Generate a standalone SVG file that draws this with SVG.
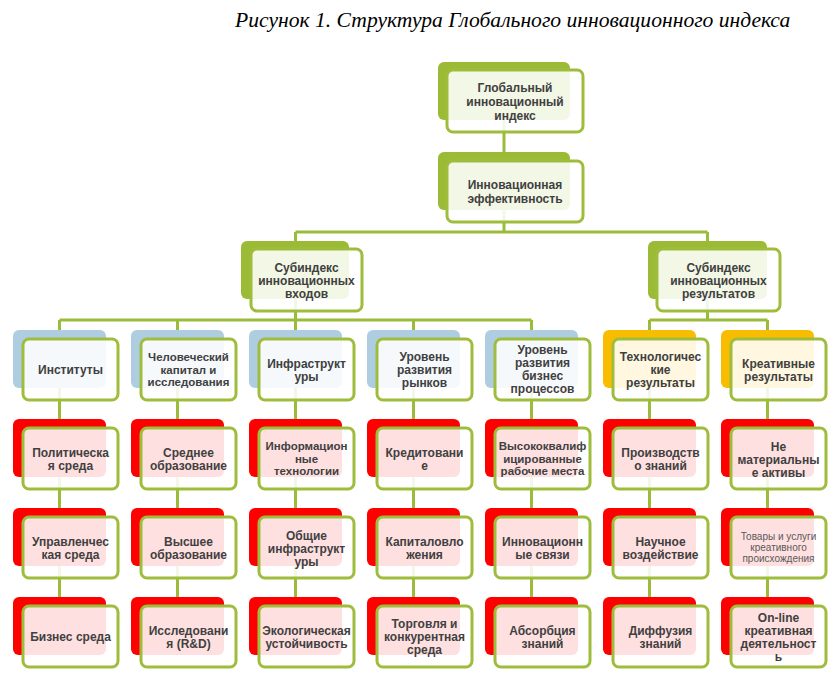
<svg xmlns="http://www.w3.org/2000/svg" width="839" height="678" viewBox="0 0 839 678">
<style>
.t{font-family:"Liberation Sans",Arial,sans-serif;font-weight:bold;font-size:12px;fill:#404040;text-anchor:middle}
.tc{font-size:11.5px}
.s{font-family:"Liberation Sans",Arial,sans-serif;font-size:10px;fill:#595959;text-anchor:middle}
.title{font-family:"Liberation Serif","Times New Roman",serif;font-style:italic;font-size:21.6px;fill:#000}
.bg{fill:#9bbb37}
.bb{fill:#afcde0}
.bo{fill:#f8bc00}
.br{fill:#ff0000}
.f{fill:#ffffff;fill-opacity:0.88;stroke:#9fbd3c;stroke-width:3}
.c{stroke:#9bbb3b;stroke-width:3;fill:none}
</style>
<rect width="839" height="678" fill="#ffffff"/>
<text class="title" x="235" y="27">Рисунок 1. Структура Глобального инновационного индекса</text>

<g id="connectors" class="c">
<path d="M504 120V152M504 210V232M295.5 232H707.5M295.5 232V241M707.5 232V241"/>
<path d="M295.5 299V320M59.5 320H531.5M59.5 320V330M177.5 320V330M295.5 320V330M413.5 320V330M531.5 320V330"/>
<path d="M707.5 299V320M649.5 320H767.5M649.5 320V330M767.5 320V330"/>
<path d="M59.5 388V419M59.5 477V508M59.5 566V597"/>
<path d="M177.5 388V419M177.5 477V508M177.5 566V597"/>
<path d="M295.5 388V419M295.5 477V508M295.5 566V597"/>
<path d="M413.5 388V419M413.5 477V508M413.5 566V597"/>
<path d="M531.5 388V419M531.5 477V508M531.5 566V597"/>
<path d="M649.5 388V419M649.5 477V508M649.5 566V597"/>
<path d="M767.5 388V419M767.5 477V508M767.5 566V597"/>
</g>

<g id="n-gii">
<rect class="bg" x="438" y="62" width="132" height="58" rx="6"/>
<rect class="f" x="447" y="70" width="136" height="62" rx="6"/>
<text class="t"><tspan x="515" y="92">Глобальный</tspan><tspan x="515" y="106">инновационный</tspan><tspan x="515" y="119.5">индекс</tspan></text>
</g>
<g id="n-eff">
<rect class="bg" x="438" y="152" width="132" height="58" rx="6"/>
<rect class="f" x="447" y="161" width="136" height="61" rx="6"/>
<text class="t"><tspan x="515" y="189">Инновационная</tspan><tspan x="515" y="202.5">эффективность</tspan></text>
</g>
<g id="n-in">
<rect class="bg" x="241" y="241" width="108" height="58" rx="6"/>
<rect class="f" x="251" y="249" width="111" height="62" rx="6"/>
<text class="t"><tspan x="306.5" y="271.5">Субиндекс</tspan><tspan x="306.5" y="284.5">инновационных</tspan><tspan x="306.5" y="297.5">входов</tspan></text>
</g>
<g id="n-out">
<rect class="bg" x="648" y="241" width="119" height="58" rx="6"/>
<rect class="f" x="657" y="249" width="123" height="62" rx="6"/>
<text class="t"><tspan x="718.5" y="272">Субиндекс</tspan><tspan x="718.5" y="285">инновационных</tspan><tspan x="718.5" y="298">результатов</tspan></text>
</g>

<!-- Row 1 -->
<g id="n-inst">
<rect class="bb" x="13" y="330" width="93" height="58" rx="6"/>
<rect class="f" x="23" y="339" width="95" height="61" rx="6"/>
<text class="t"><tspan x="70.5" y="374">Институты</tspan></text>
</g>
<g id="n-human">
<rect class="bb" x="131" y="330" width="93" height="58" rx="6"/>
<rect class="f" x="141" y="339" width="95" height="61" rx="6"/>
<text class="t tc"><tspan x="188.5" y="361">Человеческий</tspan><tspan x="188.5" y="373.5">капитал и</tspan><tspan x="188.5" y="386">исследования</tspan></text>
</g>
<g id="n-infra">
<rect class="bb" x="249" y="330" width="93" height="58" rx="6"/>
<rect class="f" x="259" y="339" width="95" height="61" rx="6"/>
<text class="t"><tspan x="306.5" y="367.5">Инфраструкт</tspan><tspan x="306.5" y="380.5">уры</tspan></text>
</g>
<g id="n-market">
<rect class="bb" x="367" y="330" width="93" height="58" rx="6"/>
<rect class="f" x="377" y="339" width="95" height="61" rx="6"/>
<text class="t"><tspan x="424.5" y="361">Уровень</tspan><tspan x="424.5" y="374">развития</tspan><tspan x="424.5" y="387">рынков</tspan></text>
</g>
<g id="n-business">
<rect class="bb" x="485" y="330" width="93" height="58" rx="6"/>
<rect class="f" x="495" y="339" width="95" height="61" rx="6"/>
<text class="t"><tspan x="542.5" y="354">Уровень</tspan><tspan x="542.5" y="367">развития</tspan><tspan x="542.5" y="380">бизнес</tspan><tspan x="542.5" y="393">процессов</tspan></text>
</g>
<g id="n-tech">
<rect class="bo" x="603" y="330" width="93" height="58" rx="6"/>
<rect class="f" x="613" y="339" width="95" height="61" rx="6"/>
<text class="t"><tspan x="660.5" y="361">Технологичес</tspan><tspan x="660.5" y="374">кие</tspan><tspan x="660.5" y="387">результаты</tspan></text>
</g>
<g id="n-creative">
<rect class="bo" x="721" y="330" width="93" height="58" rx="6"/>
<rect class="f" x="731" y="339" width="95" height="61" rx="6"/>
<text class="t"><tspan x="778.5" y="367.5">Креативные</tspan><tspan x="778.5" y="380.5">результаты</tspan></text>
</g>

<!-- Row 2 -->
<g id="n-polit">
<rect class="br" x="13" y="419" width="93" height="58" rx="6"/>
<rect class="f" x="23" y="428" width="95" height="61" rx="6"/>
<text class="t"><tspan x="70.5" y="456.5">Политическа</tspan><tspan x="70.5" y="469.5">я среда</tspan></text>
</g>
<g id="n-sec">
<rect class="br" x="131" y="419" width="93" height="58" rx="6"/>
<rect class="f" x="141" y="428" width="95" height="61" rx="6"/>
<text class="t"><tspan x="188.5" y="456.5">Среднее</tspan><tspan x="188.5" y="469.5">образование</tspan></text>
</g>
<g id="n-ict">
<rect class="br" x="249" y="419" width="93" height="58" rx="6"/>
<rect class="f" x="259" y="428" width="95" height="61" rx="6"/>
<text class="t tc"><tspan x="306.5" y="450">Информацион</tspan><tspan x="306.5" y="462.5">ные</tspan><tspan x="306.5" y="475">технологии</tspan></text>
</g>
<g id="n-credit">
<rect class="br" x="367" y="419" width="93" height="58" rx="6"/>
<rect class="f" x="377" y="428" width="95" height="61" rx="6"/>
<text class="t"><tspan x="424.5" y="456.5">Кредитовани</tspan><tspan x="424.5" y="469.5">е</tspan></text>
</g>
<g id="n-knowledge-workers">
<rect class="br" x="485" y="419" width="93" height="58" rx="6"/>
<rect class="f" x="495" y="428" width="95" height="61" rx="6"/>
<text class="t tc"><tspan x="542.5" y="450">Высококвалиф</tspan><tspan x="542.5" y="462.5">ицированные</tspan><tspan x="542.5" y="475">рабочие места</tspan></text>
</g>
<g id="n-kcreation">
<rect class="br" x="603" y="419" width="93" height="58" rx="6"/>
<rect class="f" x="613" y="428" width="95" height="61" rx="6"/>
<text class="t"><tspan x="660.5" y="456.5">Производств</tspan><tspan x="660.5" y="469.5">о знаний</tspan></text>
</g>
<g id="n-intangible">
<rect class="br" x="721" y="419" width="93" height="58" rx="6"/>
<rect class="f" x="731" y="428" width="95" height="61" rx="6"/>
<text class="t"><tspan x="778.5" y="450.5">Не</tspan><tspan x="778.5" y="463.5">материальны</tspan><tspan x="778.5" y="476.5">е активы</tspan></text>
</g>

<!-- Row 3 -->
<g id="n-reg">
<rect class="br" x="13" y="508" width="93" height="58" rx="6"/>
<rect class="f" x="23" y="517" width="95" height="61" rx="6"/>
<text class="t"><tspan x="70.5" y="545.5">Управленчес</tspan><tspan x="70.5" y="558.5">кая среда</tspan></text>
</g>
<g id="n-tertiary">
<rect class="br" x="131" y="508" width="93" height="58" rx="6"/>
<rect class="f" x="141" y="517" width="95" height="61" rx="6"/>
<text class="t"><tspan x="188.5" y="545.5">Высшее</tspan><tspan x="188.5" y="558.5">образование</tspan></text>
</g>
<g id="n-general-infra">
<rect class="br" x="249" y="508" width="93" height="58" rx="6"/>
<rect class="f" x="259" y="517" width="95" height="61" rx="6"/>
<text class="t"><tspan x="306.5" y="539.5">Общие</tspan><tspan x="306.5" y="552.5">инфраструкт</tspan><tspan x="306.5" y="565.5">уры</tspan></text>
</g>
<g id="n-invest">
<rect class="br" x="367" y="508" width="93" height="58" rx="6"/>
<rect class="f" x="377" y="517" width="95" height="61" rx="6"/>
<text class="t"><tspan x="424.5" y="545.5">Капиталовло</tspan><tspan x="424.5" y="558.5">жения</tspan></text>
</g>
<g id="n-linkages">
<rect class="br" x="485" y="508" width="93" height="58" rx="6"/>
<rect class="f" x="495" y="517" width="95" height="61" rx="6"/>
<text class="t"><tspan x="542.5" y="545.5">Инновационн</tspan><tspan x="542.5" y="558.5">ые связи</tspan></text>
</g>
<g id="n-kimpact">
<rect class="br" x="603" y="508" width="93" height="58" rx="6"/>
<rect class="f" x="613" y="517" width="95" height="61" rx="6"/>
<text class="t"><tspan x="660.5" y="545.5">Научное</tspan><tspan x="660.5" y="558.5">воздействие</tspan></text>
</g>
<g id="n-goods">
<rect class="br" x="721" y="508" width="93" height="58" rx="6"/>
<rect class="f" x="731" y="517" width="95" height="61" rx="6"/>
<text class="s"><tspan x="778.5" y="540">Товары и услуги</tspan><tspan x="778.5" y="551">креативного</tspan><tspan x="778.5" y="562">происхождения</tspan></text>
</g>

<!-- Row 4 -->
<g id="n-bizenv">
<rect class="br" x="13" y="597" width="93" height="58" rx="6"/>
<rect class="f" x="23" y="606" width="95" height="61" rx="6"/>
<text class="t"><tspan x="70.5" y="641">Бизнес среда</tspan></text>
</g>
<g id="n-rd">
<rect class="br" x="131" y="597" width="93" height="58" rx="6"/>
<rect class="f" x="141" y="606" width="95" height="61" rx="6"/>
<text class="t"><tspan x="188.5" y="634.5">Исследовани</tspan><tspan x="188.5" y="647.5">я (R&amp;D)</tspan></text>
</g>
<g id="n-eco">
<rect class="br" x="249" y="597" width="93" height="58" rx="6"/>
<rect class="f" x="259" y="606" width="95" height="61" rx="6"/>
<text class="t"><tspan x="306.5" y="634.5">Экологическая</tspan><tspan x="306.5" y="647.5">устойчивость</tspan></text>
</g>
<g id="n-trade">
<rect class="br" x="367" y="597" width="93" height="58" rx="6"/>
<rect class="f" x="377" y="606" width="95" height="61" rx="6"/>
<text class="t"><tspan x="424.5" y="628">Торговля и</tspan><tspan x="424.5" y="641">конкурентная</tspan><tspan x="424.5" y="654">среда</tspan></text>
</g>
<g id="n-absorb">
<rect class="br" x="485" y="597" width="93" height="58" rx="6"/>
<rect class="f" x="495" y="606" width="95" height="61" rx="6"/>
<text class="t"><tspan x="542.5" y="634.5">Абсорбция</tspan><tspan x="542.5" y="647.5">знаний</tspan></text>
</g>
<g id="n-diffusion">
<rect class="br" x="603" y="597" width="93" height="58" rx="6"/>
<rect class="f" x="613" y="606" width="95" height="61" rx="6"/>
<text class="t"><tspan x="660.5" y="634.5">Диффузия</tspan><tspan x="660.5" y="647.5">знаний</tspan></text>
</g>
<g id="n-online">
<rect class="br" x="721" y="597" width="93" height="58" rx="6"/>
<rect class="f" x="731" y="606" width="95" height="61" rx="6"/>
<text class="t"><tspan x="778.5" y="621.5">On-line</tspan><tspan x="778.5" y="634.5">креативная</tspan><tspan x="778.5" y="647.5">деятельност</tspan><tspan x="778.5" y="660.5">ь</tspan></text>
</g>
</svg>
